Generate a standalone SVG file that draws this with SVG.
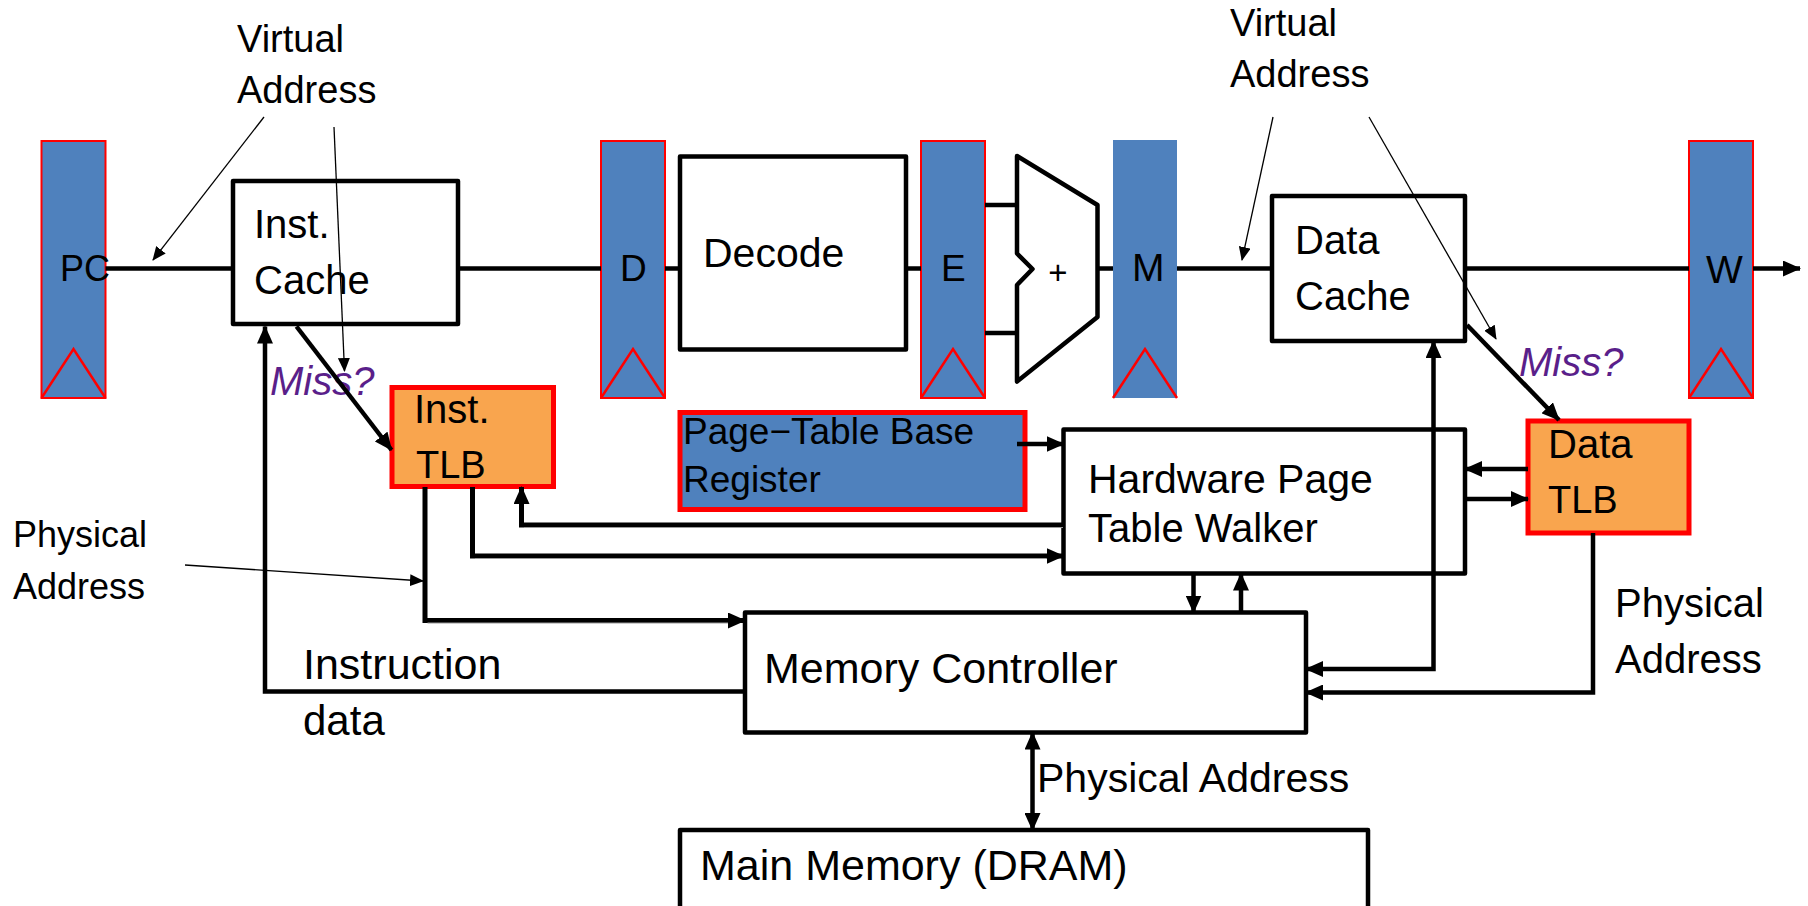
<svg xmlns="http://www.w3.org/2000/svg" width="1808" height="906" viewBox="0 0 1808 906">
<defs>
<style>
.t{font-family:"Liberation Sans",Arial,sans-serif;fill:#000}
.box{fill:#fff;stroke:#000;stroke-width:4.5;stroke-linejoin:round}
.reg{fill:#4F81BD;stroke:#FF0000;stroke-width:2}
.regn{fill:#4F81BD;stroke:none}
.clk{fill:none;stroke:#FF0000;stroke-width:2.5}
.tlb{fill:#F9A54E;stroke:#FF0000;stroke-width:5}
.ptbr{fill:#4F81BD;stroke:#FF0000;stroke-width:5}
.w{fill:none;stroke:#000;stroke-width:4.5}
.dbl{fill:none;stroke:#000;stroke-width:5}
.gry{fill:none;stroke:#9a9a9a;stroke-width:1.2}
.thin{fill:none;stroke:#000;stroke-width:1.3}
.miss{font-family:"Liberation Sans",Arial,sans-serif;font-style:italic;fill:#5A1F8A;font-size:40px}
</style>
<marker id="ah" viewBox="0 0 18 16" refX="17" refY="8" markerWidth="18" markerHeight="16" markerUnits="userSpaceOnUse" orient="auto-start-reverse"><path d="M0,0 L18,8 L0,16 z" fill="#000"/></marker>
<marker id="ahs" viewBox="0 0 14 12" refX="13" refY="6" markerWidth="14" markerHeight="12" markerUnits="userSpaceOnUse" orient="auto"><path d="M0,0 L14,6 L0,12 z" fill="#000"/></marker>
</defs>
<rect width="1808" height="906" fill="#fff"/>

<g id="reg-pc"><rect class="reg" x="41.5" y="141" width="64" height="257"/><path class="clk" d="M41.5,398 L73.5,349 L105.5,398"/><text class="t" x="60" y="281" font-size="36">PC</text></g>
<g id="inst-cache"><rect class="box" x="233" y="181" width="225" height="143"/><text class="t" x="254" y="238" font-size="40">Inst.</text><text class="t" x="254" y="294" font-size="40">Cache</text></g>
<g id="reg-d"><rect class="reg" x="601" y="141" width="64" height="257"/><path class="clk" d="M601,398 L633,349 L665,398"/><text class="t" x="620" y="281" font-size="37">D</text></g>
<g id="decode"><rect class="box" x="680" y="156.5" width="226" height="193"/><text class="t" x="703" y="267" font-size="41">Decode</text></g>
<g id="reg-e"><rect class="reg" x="921" y="141" width="64" height="257"/><path class="clk" d="M921,398 L953,349 L985,398"/><text class="t" x="941" y="281" font-size="37">E</text></g>
<g id="adder"><path class="w" style="stroke-linejoin:round" d="M1017,156 L1097.5,205 L1097.5,317 L1017,381.5 L1017,285 L1032.5,269 L1017,253.5 Z"/><text class="t" x="1058" y="284" font-size="33" text-anchor="middle">+</text></g>
<g id="reg-m"><rect class="regn" x="1113" y="140" width="64" height="258"/><path class="clk" d="M1113,398 L1145,349 L1177,398"/><text class="t" x="1132" y="281" font-size="39">M</text></g>
<g id="data-cache"><rect class="box" x="1272" y="196" width="193" height="145"/><text class="t" x="1295" y="254" font-size="40">Data</text><text class="t" x="1295" y="310" font-size="40">Cache</text></g>
<g id="reg-w"><rect class="reg" x="1689" y="141" width="64" height="257"/><path class="clk" d="M1689,398 L1721,349 L1753,398"/><text class="t" x="1706" y="283" font-size="39">W</text></g>

<g id="inst-tlb"><rect class="tlb" x="392" y="387.5" width="161.5" height="99"/><text class="t" x="414" y="423" font-size="40">Inst.</text><text class="t" x="416" y="478" font-size="38">TLB</text></g>
<g id="data-tlb"><rect class="tlb" x="1528" y="421" width="161" height="112"/><text class="t" x="1548" y="458" font-size="40">Data</text><text class="t" x="1548" y="513" font-size="38">TLB</text></g>
<g id="ptbr"><rect class="ptbr" x="680" y="412.5" width="345" height="97"/><text class="t" x="683" y="444" font-size="37">Page−Table Base</text><text class="t" x="683" y="492" font-size="37">Register</text></g>
<g id="hptw"><rect class="box" x="1063.5" y="429.5" width="401.5" height="144"/><text class="t" x="1088" y="493" font-size="41">Hardware Page</text><text class="t" x="1088" y="542" font-size="40">Table Walker</text></g>
<g id="mem-ctrl"><rect class="box" x="745" y="612.5" width="561" height="120"/><text class="t" x="764" y="683" font-size="43">Memory Controller</text></g>
<g id="main-mem"><rect class="box" x="680" y="830" width="688" height="100"/><text class="t" x="700" y="880" font-size="43">Main Memory (DRAM)</text></g>

<g id="labels">
<text class="t" x="237" y="52" font-size="38">Virtual</text>
<text class="t" x="237" y="103" font-size="38">Address</text>
<text class="t" x="1230" y="36" font-size="38">Virtual</text>
<text class="t" x="1230" y="87" font-size="38">Address</text>
<text class="miss" x="270" y="395">Miss?</text>
<text class="miss" x="1519" y="376">Miss?</text>
<text class="t" x="13" y="547" font-size="36">Physical</text>
<text class="t" x="13" y="599" font-size="36">Address</text>
<text class="t" x="303" y="679" font-size="43">Instruction</text>
<text class="t" x="303" y="735" font-size="42">data</text>
<text class="t" x="1037" y="792" font-size="41">Physical Address</text>
<text class="t" x="1615" y="617" font-size="40">Physical</text>
<text class="t" x="1615" y="673" font-size="40">Address</text>
</g>

<g id="connectors">
<path class="w" d="M105.5,268.5 H233"/>
<path class="w" d="M458,268.5 H601"/>
<path class="w" d="M665,268.5 H680"/>
<path class="w" d="M906,268.5 H921"/>
<path class="w" d="M985,205 H1017"/>
<path class="w" d="M985,333 H1017"/>
<path class="w" d="M1097.5,268.5 H1113"/>
<path class="w" d="M1177,268.5 H1272"/>
<path class="w" d="M1465,268.5 H1689"/>
<path class="w" d="M1753,268.5 H1800" marker-end="url(#ah)"/>
<path class="w" d="M296.5,326.5 L391.5,450" marker-end="url(#ah)"/>
<path class="w" d="M1467,325 L1559,420" marker-end="url(#ah)"/>
<path class="w" d="M745,691.5 H265 V326.5" marker-end="url(#ah)"/>
<path class="dbl" d="M1063.5,525 H521.5 V487" marker-end="url(#ah)"/>
<path class="gry" d="M1063,527.5 H524"/>
<path class="dbl" d="M472.5,487 V556 H1063.5" marker-end="url(#ah)"/>
<path class="gry" d="M475,558.5 H1046"/>
<path class="dbl" d="M425,487 V620.5 H745" marker-end="url(#ah)"/>
<path class="gry" d="M427.5,623 H728"/>
<path class="w" d="M1017,444 H1063.5" marker-end="url(#ah)"/>
<path class="w" d="M1528,469 H1465" marker-end="url(#ah)"/>
<path class="w" d="M1465,499 H1528" marker-end="url(#ah)"/>
<path class="w" d="M1193.5,573.5 V612.5" marker-end="url(#ah)"/>
<path class="w" d="M1241,612.5 V573.5" marker-end="url(#ah)"/>
<path class="w" d="M1306,669 H1433.5 V341" marker-end="url(#ah)" marker-start="url(#ah)"/>
<path class="w" d="M1593,533 V692.5 H1306" marker-end="url(#ah)"/>
<path class="w" d="M1032.5,732.5 V830" marker-end="url(#ah)" marker-start="url(#ah)"/>
<path class="thin" d="M264,117 L153,260" marker-end="url(#ahs)"/>
<path class="thin" d="M334,127 L344.5,371" marker-end="url(#ahs)"/>
<path class="thin" d="M1273,117 L1242,260" marker-end="url(#ahs)"/>
<path class="thin" d="M1369,117 L1496,339" marker-end="url(#ahs)"/>
<path class="thin" d="M185,565 L423,581" marker-end="url(#ahs)"/>
</g>
</svg>
